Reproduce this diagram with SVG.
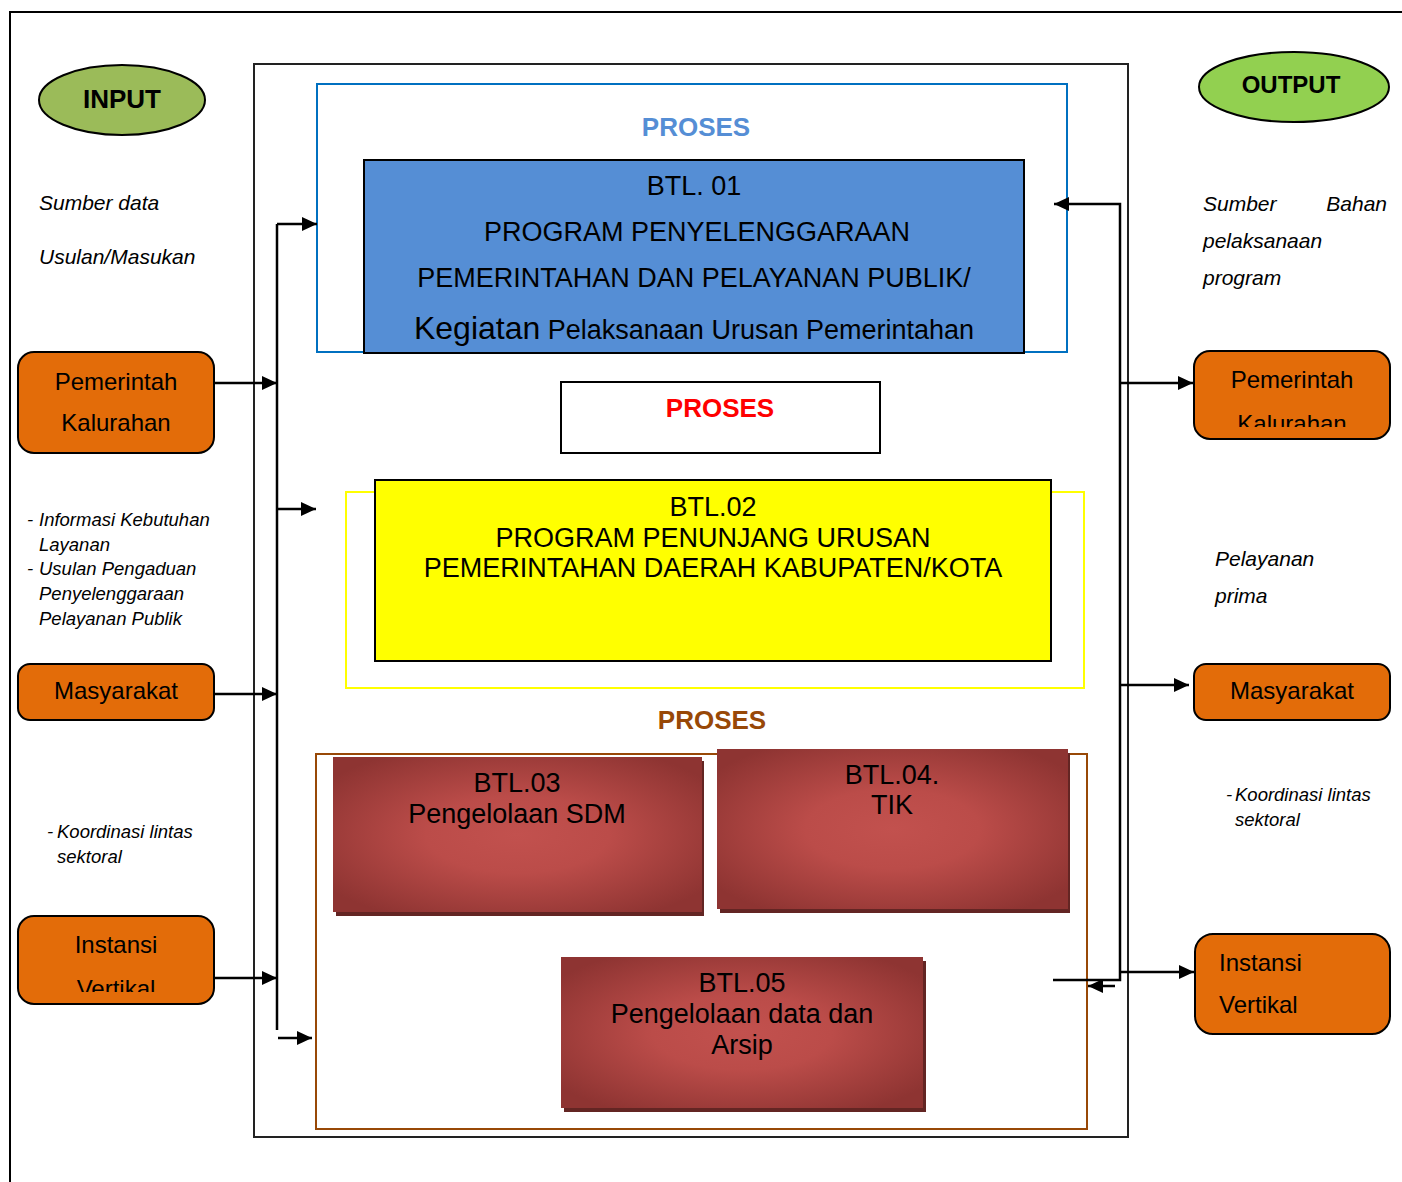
<svg xmlns="http://www.w3.org/2000/svg" width="1402" height="1182" viewBox="0 0 1402 1182">
<style>
text{font-family:"Liberation Sans",Arial,sans-serif;fill:#000}
.c{text-anchor:middle}
.it{font-style:italic}
.b{font-weight:bold}
.org{fill:#E36C09;stroke:#000;stroke-width:2}
.lbl{font-size:24px}
.side{font-size:21px;font-style:italic}
.note{font-size:18.5px;font-style:italic}
.big{font-size:27px}
.con{fill:none;stroke:#000;stroke-width:2.5}
.red{fill:url(#rg)}
.shd{fill:#632523}
</style>
<defs>
<marker id="ah" markerUnits="userSpaceOnUse" markerWidth="16" markerHeight="16" refX="15" refY="7" orient="auto" viewBox="0 0 16 14">
<path d="M0,0 L15,7 L0,14 z" fill="#000"/>
</marker>
<radialGradient id="rg" cx="50%" cy="50%" r="62%">
<stop offset="0" stop-color="#C2514E"/>
<stop offset="0.4" stop-color="#BB4C49"/>
<stop offset="1" stop-color="#8E3432"/>
</radialGradient>
<clipPath id="clipR"><rect x="1190" y="340" width="210" height="87"/></clipPath>
<clipPath id="clipL"><rect x="10" y="905" width="210" height="87"/></clipPath>
</defs>

<g id="frame">
<path d="M10,1182 V12 H1402" fill="none" stroke="#000" stroke-width="2"/>
<rect x="254" y="64" width="874" height="1073" fill="none" stroke="#222" stroke-width="2"/>
</g>

<g id="input">
<ellipse cx="122" cy="100" rx="83" ry="35" fill="#9BBB59" stroke="#000" stroke-width="2"/>
<text class="c b" x="122" y="108" font-size="26">INPUT</text>
</g>
<g id="output">
<ellipse cx="1294" cy="87" rx="95" ry="35" fill="#92D050" stroke="#000" stroke-width="2"/>
<text class="c b" x="1291" y="93" font-size="24">OUTPUT</text>
</g>

<g id="left-notes">
<text class="side" x="39" y="210">Sumber data</text>
<text class="side" x="39" y="264">Usulan/Masukan</text>
<text class="note" x="27" y="526">-</text>
<text class="note" x="39" y="526">Informasi Kebutuhan</text>
<text class="note" x="39" y="551">Layanan</text>
<text class="note" x="27" y="575">-</text>
<text class="note" x="39" y="575">Usulan Pengaduan</text>
<text class="note" x="39" y="600">Penyelenggaraan</text>
<text class="note" x="39" y="625">Pelayanan Publik</text>
<text class="note" x="47" y="838">-</text>
<text class="note" x="57" y="838">Koordinasi lintas</text>
<text class="note" x="57" y="863">sektoral</text>
</g>

<g id="right-notes">
<text class="side" x="1203" y="211">Sumber</text>
<text class="side" x="1387" y="211" text-anchor="end">Bahan</text>
<text class="side" x="1203" y="248">pelaksanaan</text>
<text class="side" x="1203" y="285">program</text>
<text class="side" x="1215" y="566">Pelayanan</text>
<text class="side" x="1215" y="603">prima</text>
<text class="note" x="1226" y="801">-</text>
<text class="note" x="1235" y="801">Koordinasi lintas</text>
<text class="note" x="1235" y="826">sektoral</text>
</g>

<g id="in-pemerintah">
<rect class="org" x="18" y="352" width="196" height="101" rx="16"/>
<text class="c lbl" x="116" y="390">Pemerintah</text>
<text class="c lbl" x="116" y="431">Kalurahan</text>
</g>
<g id="in-masyarakat">
<rect class="org" x="18" y="664" width="196" height="56" rx="12"/>
<text class="c lbl" x="116" y="699">Masyarakat</text>
</g>
<g id="in-instansi">
<rect class="org" x="18" y="916" width="196" height="88" rx="16"/>
<text class="c lbl" x="116" y="953">Instansi</text>
<text class="c lbl" x="116" y="997" clip-path="url(#clipL)">Vertikal</text>
</g>

<g id="out-pemerintah">
<rect class="org" x="1194" y="351" width="196" height="88" rx="16"/>
<text class="c lbl" x="1292" y="388">Pemerintah</text>
<text class="c lbl" x="1292" y="432" clip-path="url(#clipR)">Kalurahan</text>
</g>
<g id="out-masyarakat">
<rect class="org" x="1194" y="664" width="196" height="56" rx="12"/>
<text class="c lbl" x="1292" y="699">Masyarakat</text>
</g>
<g id="out-instansi">
<rect class="org" x="1195" y="934" width="195" height="100" rx="18"/>
<text class="lbl" x="1219" y="971">Instansi</text>
<text class="lbl" x="1219" y="1013">Vertikal</text>
</g>

<g id="proses-1">
<rect x="317" y="84" width="750" height="268" fill="none" stroke="#0070C0" stroke-width="2"/>
<text class="c b" x="696" y="136" font-size="26" style="fill:#558ED5">PROSES</text>
</g>
<g id="btl01">
<rect x="364" y="160" width="660" height="193" fill="#558ED5" stroke="#000" stroke-width="2"/>
<text class="c big" x="694" y="195">BTL. 01</text>
<text class="c big" x="697" y="241">PROGRAM PENYELENGGARAAN</text>
<text class="c big" x="694" y="287">PEMERINTAHAN DAN PELAYANAN PUBLIK/</text>
<text class="c big" x="694" y="339"><tspan font-size="32">Kegiatan</tspan> Pelaksanaan Urusan Pemerintahan</text>
</g>

<g id="proses-2">
<rect x="561" y="382" width="319" height="71" fill="#fff" stroke="#000" stroke-width="2"/>
<text class="c b" x="720" y="417" font-size="26" style="fill:#FF0000">PROSES</text>
</g>

<g id="btl02">
<rect x="346" y="492" width="738" height="196" fill="none" stroke="#FFFF00" stroke-width="2"/>
<rect x="375" y="480" width="676" height="181" fill="#FFFF00" stroke="#000" stroke-width="2"/>
<text class="c big" x="713" y="516">BTL.02</text>
<text class="c big" x="713" y="547">PROGRAM PENUNJANG URUSAN</text>
<text class="c big" x="713" y="577">PEMERINTAHAN DAERAH KABUPATEN/KOTA</text>
</g>

<g id="proses-3">
<text class="c b" x="712" y="729" font-size="26" style="fill:#984807">PROSES</text>
<rect x="316" y="754" width="771" height="375" fill="none" stroke="#984807" stroke-width="2"/>
</g>

<g id="btl03">
<rect class="shd" x="336" y="761" width="368" height="155"/>
<rect class="red" x="333" y="757" width="369" height="155"/>
<text class="c big" x="517" y="792">BTL.03</text>
<text class="c big" x="517" y="823">Pengelolaan SDM</text>
</g>
<g id="btl04">
<rect class="shd" x="720" y="753" width="350" height="160"/>
<rect class="red" x="717" y="749" width="351" height="160"/>
<text class="c big" x="892" y="784">BTL.04.</text>
<text class="c big" x="892" y="814">TIK</text>
</g>
<g id="btl05">
<rect class="shd" x="564" y="961" width="362" height="151"/>
<rect class="red" x="561" y="957" width="362" height="151"/>
<text class="c big" x="742" y="992">BTL.05</text>
<text class="c big" x="742" y="1023">Pengelolaan data dan</text>
<text class="c big" x="742" y="1054">Arsip</text>
</g>

<g id="connectors">
<path class="con" d="M277,1030 V224" stroke-width="2"/>
<path class="con" d="M277,224 H317" marker-end="url(#ah)"/>
<path class="con" d="M214,383 H277" marker-end="url(#ah)"/>
<path class="con" d="M277,509 H316" marker-end="url(#ah)"/>
<path class="con" d="M214,694 H277" marker-end="url(#ah)"/>
<path class="con" d="M213,978 H277" marker-end="url(#ah)"/>
<path class="con" d="M278,1038 H312" marker-end="url(#ah)"/>
<path class="con" d="M1053,980 H1120 V204 H1054" marker-end="url(#ah)"/>
<path class="con" d="M1120,383 H1193" marker-end="url(#ah)"/>
<path class="con" d="M1120,685 H1189" marker-end="url(#ah)"/>
<path class="con" d="M1120,972 H1194" marker-end="url(#ah)"/>
<path class="con" d="M1115,986 H1088" marker-end="url(#ah)"/>
</g>
</svg>
